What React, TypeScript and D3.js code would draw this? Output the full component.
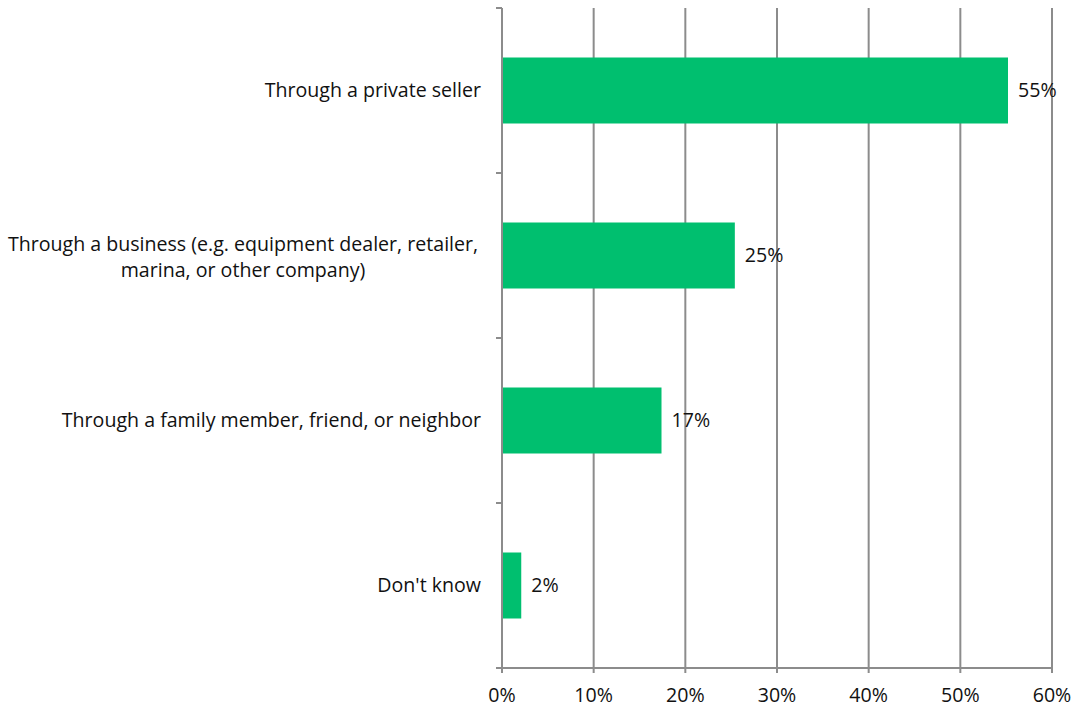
import React from "react";
import * as d3 from "d3";

const categories = [
  "Through a private seller",
  "Through a business (e.g. equipment dealer, retailer,|marina, or other company)",
  "Through a family member, friend, or neighbor",
  "Don't know",
];
const values = [55.2, 25.4, 17.4, 2.1];
const xTicks = [0, 10, 20, 30, 40, 50, 60];

const W = 1075;
const H = 709;
const M = { left: 502, right: 23, top: 8, bottom: 41 };
const FONT = "Open Sans, sans-serif";
const FS = 19.6;

export default function App() {
  const x = d3.scaleLinear().domain([0, 60]).range([M.left, W - M.right]);
  const y = d3
    .scaleBand<number>()
    .domain(d3.range(categories.length))
    .range([M.top, H - M.bottom])
    .paddingInner(0.6)
    .paddingOuter(0.3);
  const bandTops = d3.range(categories.length + 1).map((i) => M.top + i * ((H - M.bottom - M.top) / categories.length));
  const grid = "#8c8c8c";
  const y0 = H - M.bottom;
  const labelRight = M.left - 21;
  return (
    <svg width={W} height={H} style={{ position: "absolute", left: 0, top: 0, background: "#fff" }}>
      {xTicks.map((t) => (
        <line key={"g" + t} x1={x(t)} x2={x(t)} y1={M.top} y2={y0 + 5} stroke={grid} strokeWidth={2} />
      ))}
      <line x1={x(0) - 6} x2={x(60)} y1={y0} y2={y0} stroke={grid} strokeWidth={2} />
      {bandTops.map((b, i) => (
        <line key={"bt" + i} x1={x(0) - 6} x2={x(0)} y1={b} y2={b} stroke={grid} strokeWidth={2} />
      ))}
      {values.map((v, i) => (
        <rect key={"r" + i} x={x(0) + 1} y={y(i)} width={x(v) - x(0) - 1} height={y.bandwidth()} fill="#00bf6f" />
      ))}
      {values.map((v, i) => (
        <text key={"v" + i} x={x(v) + 10} y={(y(i) as number) + y.bandwidth() / 2} dy="0.35em" fontFamily={FONT} fontSize={FS} fill="#111">
          {d3.format(".0f")(v) + "%"}
        </text>
      ))}
      {categories.map((c, i) => {
        const lines = c.split("|");
        const cy = (y(i) as number) + y.bandwidth() / 2;
        const lh = 25.5;
        if (lines.length === 1) {
          return (
            <text key={"c" + i} x={labelRight} y={cy} dy="0.32em" textAnchor="end" fontFamily={FONT} fontSize={FS} fill="#111">
              {c}
            </text>
          );
        }
        return (
          <text key={"c" + i} textAnchor="middle" fontFamily={FONT} fontSize={FS} fill="#111">
            {lines.map((l, j) => (
              <tspan key={j} x={243} y={cy + 2 + (j - (lines.length - 1) / 2) * lh} dy="0.32em">
                {l}
              </tspan>
            ))}
          </text>
        );
      })}
      {xTicks.map((t) => (
        <text key={"t" + t} x={x(t)} y={y0 + 27} textAnchor="middle" dy="0.35em" fontFamily={FONT} fontSize={FS} fill="#111">
          {t + "%"}
        </text>
      ))}
    </svg>
  );
}
